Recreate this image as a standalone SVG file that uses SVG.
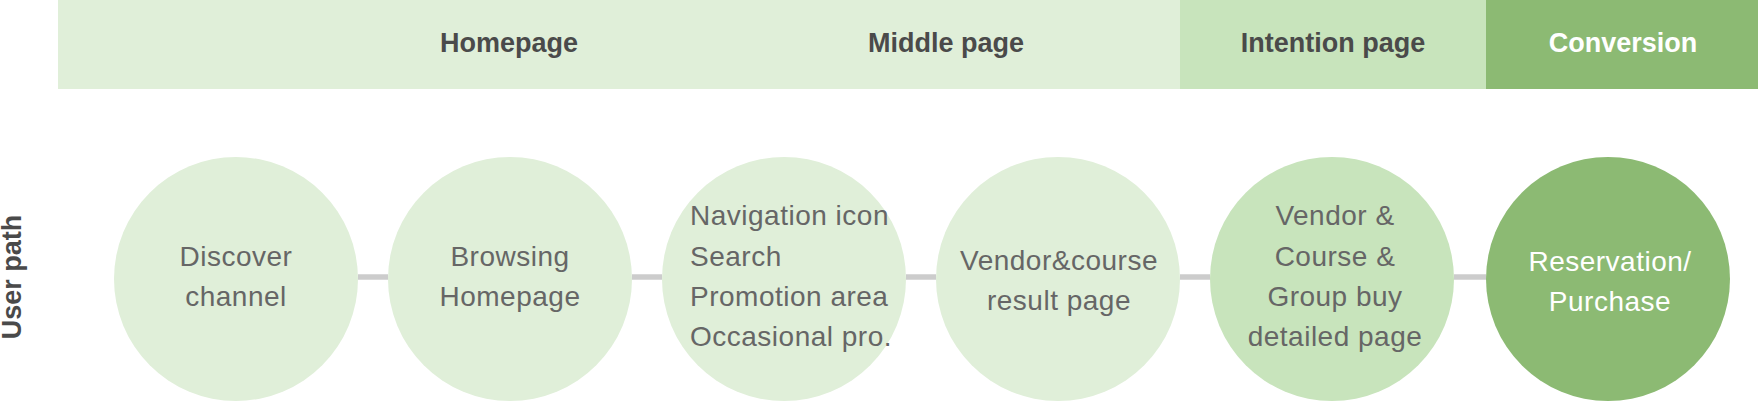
<svg xmlns="http://www.w3.org/2000/svg" width="1760" height="402" viewBox="0 0 1760 402">
<style>
.hdr{font-family:"Liberation Sans",Arial,sans-serif;font-size:27px;font-weight:bold;fill:#4a4a4a;text-anchor:middle}
.hdr.w{fill:#ffffff}
.lbl{font-family:"Liberation Sans",Arial,sans-serif;font-size:28px;fill:#666666;letter-spacing:0.5px;text-anchor:middle}
.lbl.l{text-anchor:start}
.lbl.w{fill:#ffffff}
.c1{fill:#e0efd9}
.c2{fill:#c8e4bc}
.c3{fill:#8cba73}
.conn{stroke:#cccccc;stroke-width:5.5;fill:none}
</style>
<g id="header">
<rect class="c1" x="58" y="0" width="1122" height="89"/>
<rect class="c2" x="1180" y="0" width="306" height="89"/>
<rect class="c3" x="1486" y="0" width="272" height="89"/>
<text class="hdr" x="509" y="52">Homepage</text>
<text class="hdr" x="946" y="52">Middle page</text>
<text class="hdr" x="1333" y="52">Intention page</text>
<text class="hdr w" x="1623" y="52">Conversion</text>
</g>
<text id="row-label" class="hdr" transform="translate(21,277) rotate(-90)">User path</text>
<g id="connectors">
<line class="conn" x1="358" y1="277" x2="388" y2="277"/>
<line class="conn" x1="632" y1="277" x2="662" y2="277"/>
<line class="conn" x1="906" y1="277" x2="936" y2="277"/>
<line class="conn" x1="1180" y1="277" x2="1210" y2="277"/>
<line class="conn" x1="1454" y1="277" x2="1486" y2="277"/>
</g>
<g id="node-discover">
<circle class="c1" cx="236" cy="279" r="122"/>
<text class="lbl" x="236" y="266">Discover</text>
<text class="lbl" x="236" y="306">channel</text>
</g>
<g id="node-browsing">
<circle class="c1" cx="510" cy="279" r="122"/>
<text class="lbl" x="510" y="266">Browsing</text>
<text class="lbl" x="510" y="306">Homepage</text>
</g>
<g id="node-middle">
<circle class="c1" cx="784" cy="279" r="122"/>
<text class="lbl l" x="690" y="225">Navigation icon</text>
<text class="lbl l" x="690" y="265.5">Search</text>
<text class="lbl l" x="690" y="305.5">Promotion area</text>
<text class="lbl l" x="690" y="345.5">Occasional pro.</text>
</g>
<g id="node-result">
<circle class="c1" cx="1058" cy="279" r="122"/>
<text class="lbl" x="1059" y="270">Vendor&amp;course</text>
<text class="lbl" x="1059" y="310">result page</text>
</g>
<g id="node-detail">
<circle class="c2" cx="1332" cy="279" r="122"/>
<text class="lbl" x="1335" y="225">Vendor &amp;</text>
<text class="lbl" x="1335" y="265.5">Course &amp;</text>
<text class="lbl" x="1335" y="305.5">Group buy</text>
<text class="lbl" x="1335" y="345.5">detailed page</text>
</g>
<g id="node-conversion">
<circle class="c3" cx="1608" cy="279" r="122"/>
<text class="lbl w" x="1610" y="271">Reservation/</text>
<text class="lbl w" x="1610" y="311">Purchase</text>
</g>
</svg>
